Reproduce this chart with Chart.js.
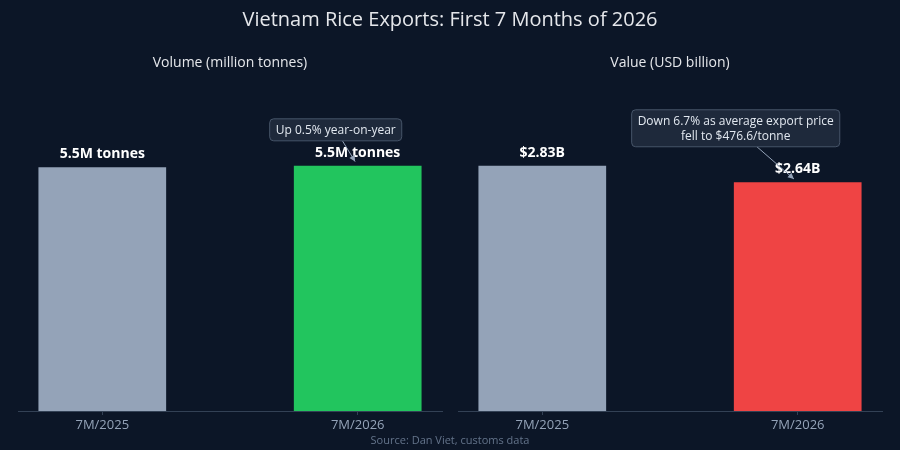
<!DOCTYPE html>
<html>
<head>
<meta charset="utf-8">
<script src="https://cdn.jsdelivr.net/npm/chart.js@4.4.1/dist/chart.umd.min.js"></script>
<style>
    body { margin: 0; background: #0c1627; font-family: "Open Sans", "Noto Sans", sans-serif; }
    #wrap { position: relative; width: 900px; height: 450px; overflow: hidden; }
    .txt { position: absolute; white-space: nowrap; transform: translate(-50%, -50%); }
    #title { left: 450px; top: 18px; font-size: 20px; color: #e5e7eb; }
    .sub { top: 61px; font-size: 14px; color: #e5e7eb; }
    #source { left: 450px; top: 439px; font-size: 11px; color: #64748b; }
    canvas { position: absolute; top: 0; }
</style>
</head>
<body>
<div id="wrap">
    <canvas id="volChart" width="450" height="450" style="left:0"></canvas>
    <canvas id="valChart" width="450" height="450" style="left:450px"></canvas>
    <div id="title" class="txt">Vietnam Rice Exports: First 7 Months of 2026</div>
    <div class="txt sub" style="left:230px">Volume (million tonnes)</div>
    <div class="txt sub" style="left:670px">Value (USD billion)</div>
    <div id="source" class="txt">Source: Dan Viet, customs data</div>
</div>
<script>
// data
var periods = ['7M/2025', '7M/2026'];
var volumeMt = [5.5, 5.53];
var valueUsdBn = [2.83, 2.64];

var FONT = '"Open Sans", "Noto Sans", sans-serif';

// bar labels + note box with arrow, drawn on top of the bars
function notesPlugin(fmt, n) {
    return {
        id: 'notes',
        afterDatasetsDraw: function(chart) {
            var ctx = chart.ctx;
            var meta = chart.getDatasetMeta(0);
            var vals = chart.data.datasets[0].data;
            ctx.save();
            ctx.fillStyle = '#ffffff';
            ctx.font = 'bold 14px ' + FONT;
            ctx.textAlign = 'center';
            ctx.textBaseline = 'bottom';
            meta.data.forEach(function(bar, i) {
                ctx.fillText(fmt(vals[i].y), bar.x, bar.y - 6);
            });

            var bar = meta.data[n.index];
            var px = bar.x, py = bar.y;
            var cx = px + n.ax, cy = py + n.ay;
            ctx.font = '12px ' + FONT;
            var lineH = 15;
            var w = 0;
            n.lines.forEach(function(l) { w = Math.max(w, ctx.measureText(l).width); });
            var bw = w + 12, bh = n.lines.length * lineH + 7;
            var bx = cx - bw / 2, by = cy - bh / 2;

            // arrow from box bottom edge to the point
            var dx = px - cx, dy = py - cy;
            var t = (bh / 2) / dy;
            var tx = cx + dx * t, ty = cy + dy * t;
            var len = Math.sqrt(dx * dx + dy * dy);
            var ux = dx / len, uy = dy / len;
            var hx = px - ux * 5, hy = py - uy * 5;
            ctx.strokeStyle = '#94a3b8';
            ctx.fillStyle = '#94a3b8';
            ctx.lineWidth = 1;
            ctx.beginPath();
            ctx.moveTo(tx, ty);
            ctx.lineTo(hx, hy);
            ctx.stroke();
            ctx.beginPath();
            ctx.moveTo(hx, hy);
            ctx.lineTo(hx - ux * 6 - uy * 3, hy - uy * 6 + ux * 3);
            ctx.lineTo(hx - ux * 6 + uy * 3, hy - uy * 6 - ux * 3);
            ctx.closePath();
            ctx.fill();

            ctx.fillStyle = '#1e293b';
            ctx.strokeStyle = '#475569';
            ctx.beginPath();
            ctx.roundRect(bx, by, bw, bh, 4);
            ctx.fill();
            ctx.stroke();
            ctx.fillStyle = '#e2e8f0';
            ctx.textBaseline = 'middle';
            n.lines.forEach(function(l, i) {
                ctx.fillText(l, cx, by + 4 + lineH * (i + 0.5));
            });
            ctx.restore();
        }
    };
}

function makeChart(id, values, colors, fmt, note, pad) {
    var pts = values.map(function(v, i) { return { x: i, y: v }; });
    var top = Math.max.apply(null, values) * 1.35;
    return new Chart(document.getElementById(id), {
        type: 'bar',
        data: {
            datasets: [{
                data: pts,
                backgroundColor: colors,
                barPercentage: 0.5,
                categoryPercentage: 1.0
            }]
        },
        options: {
            responsive: false,
            animation: false,
            layout: { padding: { left: pad[0], right: pad[1], top: 80, bottom: 9 } },
            plugins: {
                legend: { display: false },
                tooltip: { enabled: false }
            },
            scales: {
                x: {
                    type: 'linear',
                    min: -0.33,
                    max: 1.33,
                    offset: false,
                    afterBuildTicks: function(scale) {
                        scale.ticks = periods.map(function(p, i) { return { value: i }; });
                    },
                    afterFit: function(scale) { scale.height = 30; },
                    ticks: {
                        color: '#94a3b8',
                        font: { family: FONT, size: 13 },
                        padding: 2,
                        callback: function(v) { return periods[v]; }
                    },
                    grid: { offset: false, drawOnChartArea: false, drawTicks: true, tickLength: 4, color: '#334155' },
                    border: { color: '#334155' }
                },
                y: { display: false, min: 0, max: top }
            }
        },
        plugins: [notesPlugin(fmt, note)]
    });
}

makeChart('volChart', volumeMt, ['#94a3b8', '#22c55e'],
    function(v) { return v.toFixed(1) + 'M tonnes'; },
    { index: 1, ax: -22, ay: -36, lines: ['Up 0.5% year-on-year'] },
    [18, 8]);

makeChart('valChart', valueUsdBn, ['#94a3b8', '#ef4444'],
    function(v) { return '$' + v.toFixed(2) + 'B'; },
    { index: 1, ax: -62, ay: -54, lines: ['Down 6.7% as average export price', 'fell to $476.6/tonne'] },
    [8, 18]);
</script>
</body>
</html>
